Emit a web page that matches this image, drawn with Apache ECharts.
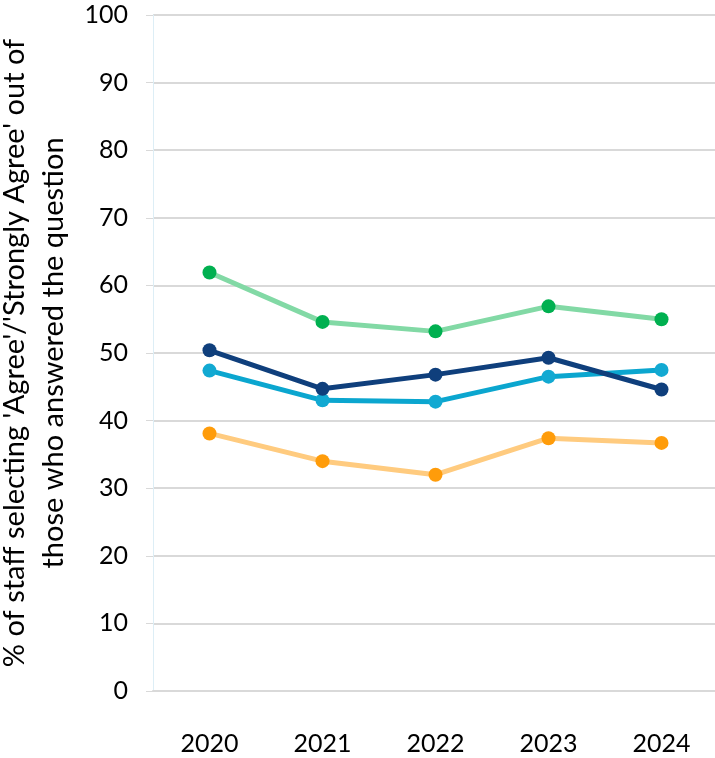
<!DOCTYPE html>
<html>
<head>
<meta charset="utf-8">
<script src="https://cdn.jsdelivr.net/npm/echarts@6/dist/echarts.min.js"></script>
<style>html,body{margin:0;padding:0;background:#fff}#c{width:715px;height:758px}</style>
</head>
<body>
<div id="c"></div>
<script>
const categories = ['2020', '2021', '2022', '2023', '2024'];
const yTicks = [0, 10, 20, 30, 40, 50, 60, 70, 80, 90, 100];
const greenSeries = [61.9, 54.6, 53.2, 56.9, 55.0];
const navySeries = [50.4, 44.7, 46.8, 49.3, 44.6];
const cyanSeries = [47.4, 43.0, 42.8, 46.5, 47.5];
const orangeSeries = [38.1, 34.0, 32.0, 37.4, 36.7];
const yAxisTitle = "% of staff selecting 'Agree'/'Strongly Agree' out of\nthose who answered the question";

const font = 'Lato';
function mk(data, lineColor, markColor, z) {
  return {
    type: 'line', data: data, symbol: 'circle', symbolSize: 14, z: z,
    lineStyle: { color: lineColor, width: 5 },
    itemStyle: { color: markColor },
    emphasis: { disabled: true }, animation: false
  };
}
const chart = echarts.init(document.getElementById('c'));
chart.setOption({
  animation: false,
  grid: { left: 153, top: 15, width: 565, height: 676, containLabel: false, outerBoundsMode: 'none' },
  xAxis: {
    type: 'category', data: categories, boundaryGap: true,
    axisLine: { show: true, lineStyle: { color: '#d9d9d9', width: 2 } },
    axisTick: { show: false },
    axisLabel: { color: '#000', fontFamily: font, fontSize: 25, margin: 40 }
  },
  yAxis: {
    type: 'value', min: yTicks[0], max: yTicks[yTicks.length - 1], interval: 10,
    name: yAxisTitle, nameLocation: 'middle', nameRotate: 90, nameGap: 72,
    nameTextStyle: { color: '#000', fontFamily: font, fontSize: 29, lineHeight: 39, align: 'center' },
    axisLine: { show: true, lineStyle: { color: '#ddeef6', width: 1 } },
    axisTick: { show: true, length: 7, lineStyle: { color: '#d9d9d9' } },
    splitLine: { show: true, lineStyle: { color: '#d9d9d9', width: 2 } },
    axisLabel: { color: '#000', fontFamily: font, fontSize: 25, margin: 25 }
  },
  series: [
    mk(greenSeries, '#82d9a5', '#00b050', 2),
    mk(cyanSeries, '#0ba6cf', '#12a9d2', 3),
    mk(navySeries, '#0f3f7c', '#0f3f7c', 4),
    mk(orangeSeries, '#ffcb7f', '#ff9c0a', 2)
  ]
});
</script>
</body>
</html>
